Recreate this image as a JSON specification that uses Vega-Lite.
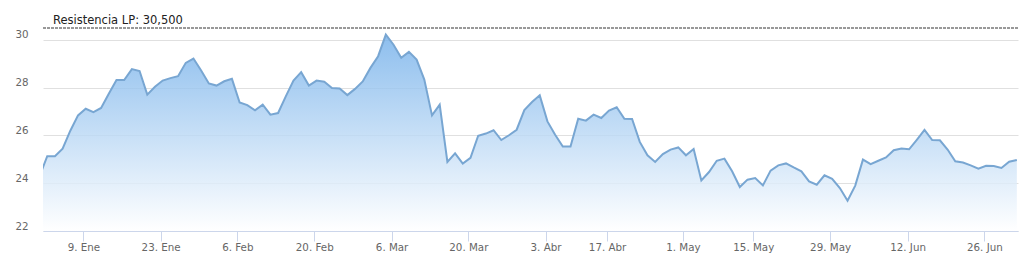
{
  "$schema": "https://vega.github.io/schema/vega-lite/v6.json",
  "width": 975,
  "height": 203,
  "autosize": {"type": "none"},
  "padding": {"left": 43, "top": 28, "right": 9, "bottom": 30},
  "background": "white",
  "config": {"view": {"stroke": null}, "font": "DejaVu Sans"},
  "datasets": {
    "price": [
      {"d":"2016-12-30","i":-1,"v":24.30},
      {"d":"2017-01-02","i":0,"v":25.13},{"d":"2017-01-03","i":1,"v":25.13},{"d":"2017-01-04","i":2,"v":25.45},{"d":"2017-01-05","i":3,"v":26.20},{"d":"2017-01-06","i":4,"v":26.84},
      {"d":"2017-01-09","i":5,"v":27.12},{"d":"2017-01-10","i":6,"v":26.98},{"d":"2017-01-11","i":7,"v":27.15},{"d":"2017-01-12","i":8,"v":27.75},{"d":"2017-01-13","i":9,"v":28.32},
      {"d":"2017-01-16","i":10,"v":28.32},{"d":"2017-01-17","i":11,"v":28.78},{"d":"2017-01-18","i":12,"v":28.70},{"d":"2017-01-19","i":13,"v":27.71},{"d":"2017-01-20","i":14,"v":28.04},
      {"d":"2017-01-23","i":15,"v":28.30},{"d":"2017-01-24","i":16,"v":28.40},{"d":"2017-01-25","i":17,"v":28.48},{"d":"2017-01-26","i":18,"v":29.04},{"d":"2017-01-27","i":19,"v":29.22},
      {"d":"2017-01-30","i":20,"v":28.72},{"d":"2017-01-31","i":21,"v":28.18},{"d":"2017-02-01","i":22,"v":28.09},{"d":"2017-02-02","i":23,"v":28.27},{"d":"2017-02-03","i":24,"v":28.37},
      {"d":"2017-02-06","i":25,"v":27.38},{"d":"2017-02-07","i":26,"v":27.27},{"d":"2017-02-08","i":27,"v":27.05},{"d":"2017-02-09","i":28,"v":27.29},{"d":"2017-02-10","i":29,"v":26.87},
      {"d":"2017-02-13","i":30,"v":26.94},{"d":"2017-02-14","i":31,"v":27.64},{"d":"2017-02-15","i":32,"v":28.30},{"d":"2017-02-16","i":33,"v":28.65},{"d":"2017-02-17","i":34,"v":28.09},
      {"d":"2017-02-20","i":35,"v":28.30},{"d":"2017-02-21","i":36,"v":28.25},{"d":"2017-02-22","i":37,"v":27.99},{"d":"2017-02-23","i":38,"v":27.97},{"d":"2017-02-24","i":39,"v":27.69},
      {"d":"2017-02-27","i":40,"v":27.95},{"d":"2017-02-28","i":41,"v":28.26},{"d":"2017-03-01","i":42,"v":28.83},{"d":"2017-03-02","i":43,"v":29.32},{"d":"2017-03-03","i":44,"v":30.22},
      {"d":"2017-03-06","i":45,"v":29.80},{"d":"2017-03-07","i":46,"v":29.25},{"d":"2017-03-08","i":47,"v":29.50},{"d":"2017-03-09","i":48,"v":29.18},{"d":"2017-03-10","i":49,"v":28.34},
      {"d":"2017-03-13","i":50,"v":26.84},{"d":"2017-03-14","i":51,"v":27.29},{"d":"2017-03-15","i":52,"v":24.89},{"d":"2017-03-16","i":53,"v":25.25},{"d":"2017-03-17","i":54,"v":24.82},
      {"d":"2017-03-20","i":55,"v":25.06},{"d":"2017-03-21","i":56,"v":25.99},{"d":"2017-03-22","i":57,"v":26.08},{"d":"2017-03-23","i":58,"v":26.22},{"d":"2017-03-24","i":59,"v":25.81},
      {"d":"2017-03-27","i":60,"v":26.01},{"d":"2017-03-28","i":61,"v":26.24},{"d":"2017-03-29","i":62,"v":27.06},{"d":"2017-03-30","i":63,"v":27.40},{"d":"2017-03-31","i":64,"v":27.68},
      {"d":"2017-04-03","i":65,"v":26.59},{"d":"2017-04-04","i":66,"v":26.03},{"d":"2017-04-05","i":67,"v":25.54},{"d":"2017-04-06","i":68,"v":25.54},{"d":"2017-04-07","i":69,"v":26.70},
      {"d":"2017-04-10","i":70,"v":26.62},{"d":"2017-04-11","i":71,"v":26.87},{"d":"2017-04-12","i":72,"v":26.73},{"d":"2017-04-13","i":73,"v":27.04},
      {"d":"2017-04-18","i":74,"v":27.18},{"d":"2017-04-19","i":75,"v":26.70},{"d":"2017-04-20","i":76,"v":26.69},{"d":"2017-04-21","i":77,"v":25.73},
      {"d":"2017-04-24","i":78,"v":25.17},{"d":"2017-04-25","i":79,"v":24.89},{"d":"2017-04-26","i":80,"v":25.22},{"d":"2017-04-27","i":81,"v":25.41},{"d":"2017-04-28","i":82,"v":25.50},
      {"d":"2017-05-02","i":83,"v":25.17},{"d":"2017-05-03","i":84,"v":25.43},{"d":"2017-05-04","i":85,"v":24.12},{"d":"2017-05-05","i":86,"v":24.47},
      {"d":"2017-05-08","i":87,"v":24.94},{"d":"2017-05-09","i":88,"v":25.03},{"d":"2017-05-10","i":89,"v":24.50},{"d":"2017-05-11","i":90,"v":23.84},{"d":"2017-05-12","i":91,"v":24.15},
      {"d":"2017-05-15","i":92,"v":24.22},{"d":"2017-05-16","i":93,"v":23.91},{"d":"2017-05-17","i":94,"v":24.53},{"d":"2017-05-18","i":95,"v":24.75},{"d":"2017-05-19","i":96,"v":24.83},
      {"d":"2017-05-22","i":97,"v":24.66},{"d":"2017-05-23","i":98,"v":24.50},{"d":"2017-05-24","i":99,"v":24.08},{"d":"2017-05-25","i":100,"v":23.94},{"d":"2017-05-26","i":101,"v":24.33},
      {"d":"2017-05-29","i":102,"v":24.18},{"d":"2017-05-30","i":103,"v":23.80},{"d":"2017-05-31","i":104,"v":23.27},{"d":"2017-06-01","i":105,"v":23.90},{"d":"2017-06-02","i":106,"v":24.99},
      {"d":"2017-06-05","i":107,"v":24.80},{"d":"2017-06-06","i":108,"v":24.94},{"d":"2017-06-07","i":109,"v":25.08},{"d":"2017-06-08","i":110,"v":25.38},{"d":"2017-06-09","i":111,"v":25.45},
      {"d":"2017-06-12","i":112,"v":25.42},{"d":"2017-06-13","i":113,"v":25.82},{"d":"2017-06-14","i":114,"v":26.23},{"d":"2017-06-15","i":115,"v":25.81},{"d":"2017-06-16","i":116,"v":25.80},
      {"d":"2017-06-19","i":117,"v":25.41},{"d":"2017-06-20","i":118,"v":24.92},{"d":"2017-06-21","i":119,"v":24.87},{"d":"2017-06-22","i":120,"v":24.75},{"d":"2017-06-23","i":121,"v":24.61},
      {"d":"2017-06-26","i":122,"v":24.73},{"d":"2017-06-27","i":123,"v":24.72},{"d":"2017-06-28","i":124,"v":24.64},{"d":"2017-06-29","i":125,"v":24.90},{"d":"2017-06-30","i":126,"v":24.97}
    ],
    "res": [{"nivel": 30.5, "etiqueta": "Resistencia LP: 30,500"}]
  },
  "layer": [
    {
      "data": {"name": "price"},
      "mark": {
        "type": "area",
        "clip": true,
        "fillOpacity": 0.82,
        "fill": {
          "gradient": "linear",
          "x1": 0, "y1": 0, "x2": 0, "y2": 1,
          "stops": [
            {"offset": 0, "color": "#74b0ea"},
            {"offset": 1, "color": "#ffffff"}
          ]
        }
      },
      "encoding": {
        "x": {
          "field": "i",
          "type": "quantitative",
          "scale": {"domain": [-0.55, 126.15], "nice": false, "zero": false},
          "axis": {
            "title": null,
            "grid": false,
            "values": [4.7, 14.73, 24.7, 34.7, 44.75, 54.72, 64.75, 72.75, 82.6, 91.75, 101.73, 111.8, 121.78],
            "labelExpr": "['9. Ene','23. Ene','6. Feb','20. Feb','6. Mar','20. Mar','3. Abr','17. Abr','1. May','15. May','29. May','12. Jun','26. Jun'][indexof([5,15,25,35,45,55,65,73,83,92,102,112,122], round(datum.value))]",
            "domainColor": "#ccd6eb",
            "tickColor": "#ccd6eb",
            "tickSize": 10,
            "labelPadding": 1,
            "labelColor": "#666666",
            "labelFont": "DejaVu Sans",
            "labelFontSize": 10.3,
            "labelFlush": false,
            "labelOverlap": false
          }
        },
        "y": {
          "field": "v",
          "type": "quantitative",
          "scale": {"domain": [22, 30.5], "nice": false, "zero": false},
          "axis": {
            "title": null,
            "values": [22, 24, 26, 28, 30],
            "domain": false,
            "ticks": false,
            "tickSize": 0,
            "labelPadding": 15,
            "gridColor": "#e0e0e0",
            "labelColor": "#666666",
            "labelFont": "DejaVu Sans",
            "labelFontSize": 10.3,
            "labelBaseline": "alphabetic",
            "labelOffset": -2
          }
        },
        "y2": {"datum": 22}
      }
    },
    {
      "data": {"name": "price"},
      "mark": {"type": "line", "clip": true, "color": "#78a6d2", "strokeWidth": 2},
      "encoding": {
        "x": {"field": "i", "type": "quantitative"},
        "y": {"field": "v", "type": "quantitative"}
      }
    },
    {
      "data": {"name": "res"},
      "mark": {"type": "rule", "color": "#333333", "strokeDash": [3, 1], "strokeWidth": 1},
      "encoding": {"y": {"field": "nivel", "type": "quantitative"}}
    },
    {
      "data": {"name": "res"},
      "mark": {"type": "text", "align": "left", "baseline": "alphabetic", "dx": 10, "dy": -4, "fontSize": 11.5, "color": "#222222", "font": "DejaVu Sans"},
      "encoding": {
        "x": {"datum": -0.55, "type": "quantitative"},
        "y": {"field": "nivel", "type": "quantitative"},
        "text": {"field": "etiqueta"}
      }
    }
  ]
}
